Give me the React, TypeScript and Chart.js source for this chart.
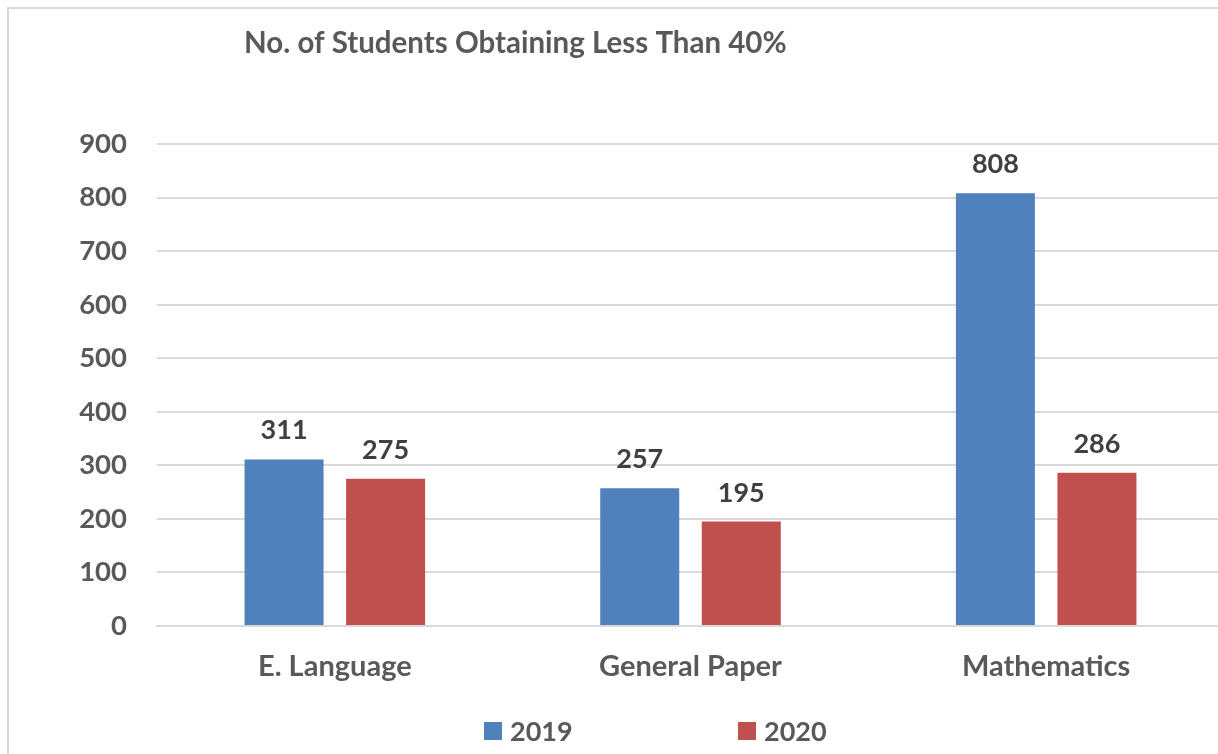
import React, { useEffect, useRef } from "react";
import { Chart, registerables } from "chart.js";

Chart.register(...registerables);

const TITLE = "No. of Students Obtaining Less Than 40%";
const CATEGORIES = ["E. Language", "General Paper", "Mathematics"];
const SERIES_NAMES = ["2019", "2020"];
const VALUES_2019 = [311, 257, 808];
const VALUES_2020 = [275, 195, 286];
const COLORS = ["#4F81BD", "#C0504D"];
const Y_MIN = 0;
const Y_MAX = 900;
const Y_STEP = 100;

const FONT = "Lato, 'Open Sans', sans-serif";

const extrasPlugin = {
  id: "extras",
  afterDatasetsDraw(chart: any) {
    const ctx = chart.ctx;
    ctx.save();
    // data labels
    ctx.font = `bold 27px ${FONT}`;
    ctx.fillStyle = "#404040";
    ctx.textAlign = "center";
    ctx.textBaseline = "alphabetic";
    chart.data.datasets.forEach((ds: any, i: number) => {
      const meta = chart.getDatasetMeta(i);
      meta.data.forEach((bar: any, j: number) => {
        ctx.fillText(String(ds.data[j]), bar.x, bar.y - 20);
      });
    });
    // title
    ctx.font = `bold 29.5px ${FONT}`;
    ctx.fillStyle = "#595959";
    ctx.textAlign = "left";
    ctx.fillText(TITLE, 244, 53);
    // legend
    const legendX = [484, 738];
    ctx.font = `bold 27px ${FONT}`;
    chart.data.datasets.forEach((ds: any, i: number) => {
      const x = legendX[i];
      ctx.fillStyle = ds.backgroundColor;
      ctx.fillRect(x, 722, 18, 18);
      ctx.fillStyle = "#595959";
      ctx.textBaseline = "middle";
      ctx.fillText(ds.label, x + 26, 732);
    });
    ctx.restore();
  },
};

export default function App() {
  const ref = useRef<HTMLCanvasElement | null>(null);
  useEffect(() => {
    if (!ref.current) return;
    const chart = new Chart(ref.current, {
      type: "bar",
      data: {
        labels: CATEGORIES,
        datasets: [
          { label: SERIES_NAMES[0], data: VALUES_2019, backgroundColor: COLORS[0] },
          { label: SERIES_NAMES[1], data: VALUES_2020, backgroundColor: COLORS[1] },
        ],
      },
      options: {
        animation: false,
        responsive: true,
        maintainAspectRatio: false,
        categoryPercentage: 0.571,
        barPercentage: 0.778,
        layout: { padding: { top: 144, left: 0, right: 16, bottom: 0 } },
        plugins: {
          legend: { display: false },
          title: { display: false },
          tooltip: { enabled: false },
        },
        scales: {
          x: {
            grid: { display: false, drawTicks: false },
            border: { display: true, color: "#d9d9d9", width: 2 },
            ticks: {
              color: "#595959",
              font: { family: FONT, size: 29, weight: "bold" },
              padding: 23,
            },
            afterFit(scale: any) {
              scale.height = 128;
            },
          },
          y: {
            min: Y_MIN,
            max: Y_MAX,
            grid: { color: "#d9d9d9", lineWidth: 2, drawTicks: false },
            border: { display: false },
            ticks: {
              stepSize: Y_STEP,
              color: "#595959",
              font: { family: FONT, size: 27.5, weight: "bold" },
              padding: 30,
            },
            afterFit(scale: any) {
              scale.width = 157;
            },
          },
        },
      },
      plugins: [extrasPlugin],
    } as any);
    return () => chart.destroy();
  }, []);

  return (
    <div
      style={{
        position: "fixed",
        left: 0,
        top: 0,
        width: 1218,
        height: 754,
        overflow: "hidden",
        background: "#fff",
      }}
    >
      <div
        style={{
          position: "absolute",
          left: 7,
          top: 7,
          width: 1260,
          height: 800,
          border: "2px solid #d9d9d9",
          boxSizing: "border-box",
        }}
      />
      <div style={{ position: "absolute", left: 0, top: 0, width: 1240, height: 754 }}>
        <canvas ref={ref} />
      </div>
    </div>
  );
}
